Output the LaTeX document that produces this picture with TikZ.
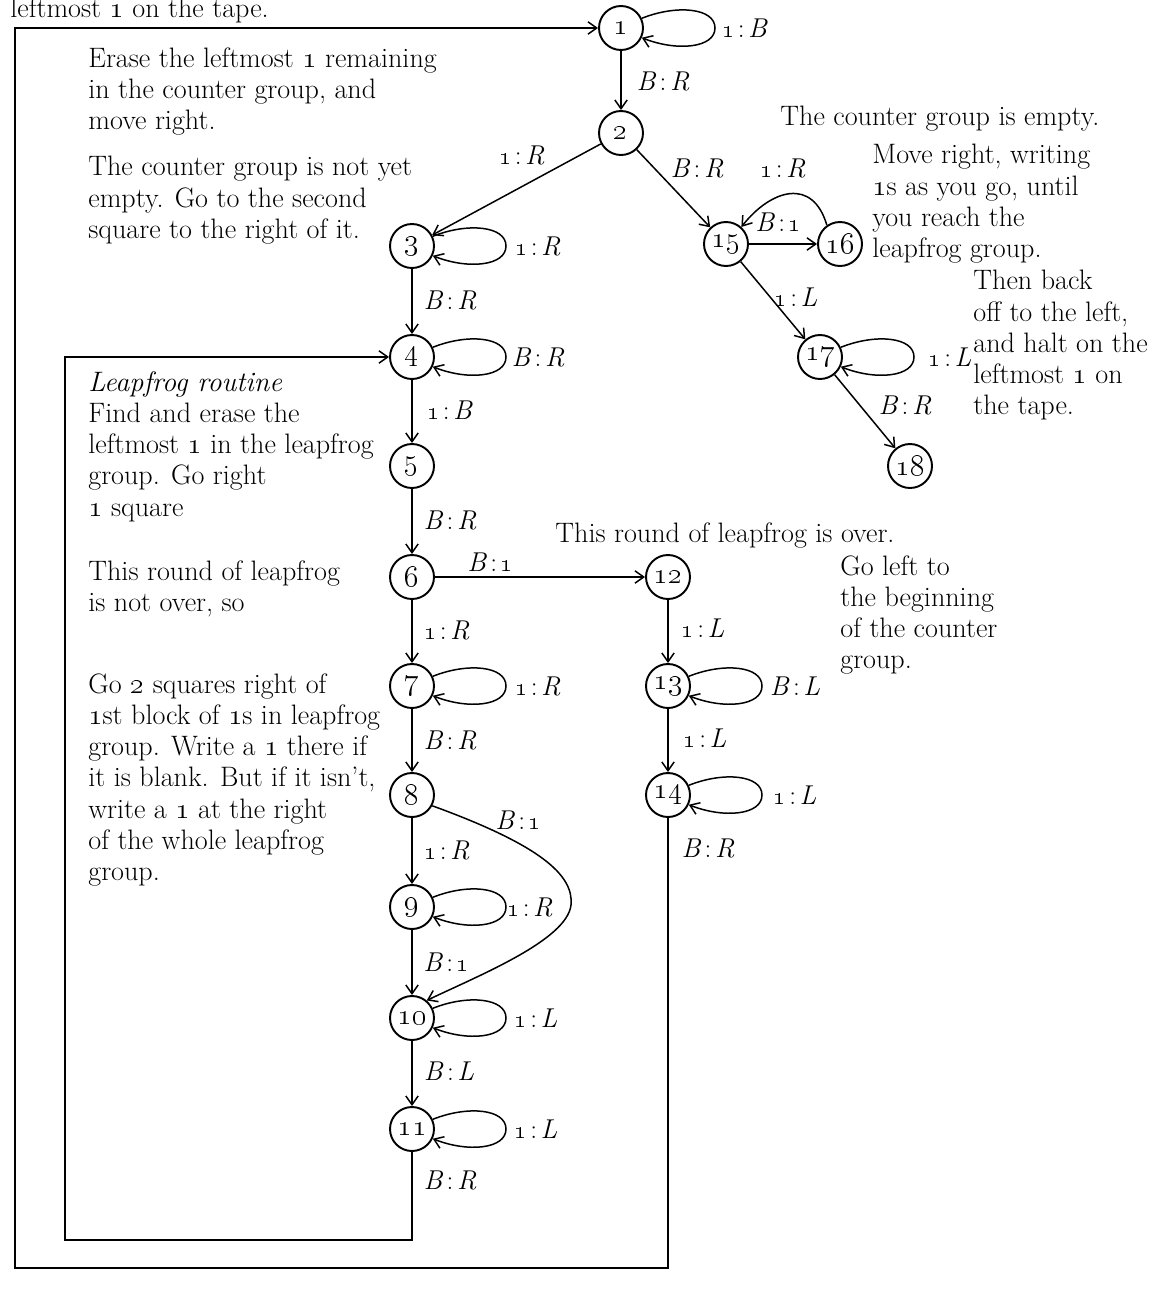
\documentclass[tikz,border=0pt]{standalone}
\usetikzlibrary{arrows.meta,calc}
\newcommand\osn[1]{\oldstylenums{#1}}
\newcommand\tr[2]{#1\kern2pt:\kern2pt\textit{#2}}
\tikzset{
  state/.style={circle,draw,line width=1.1pt,minimum size=0.88cm,inner sep=0pt,
    font=\fontsize{16}{18}\selectfont},
  arr/.style={line width=0.85pt,-{Straight Barb[length=5pt,width=7pt]}},
  lbl/.style={font=\fontsize{15.5}{18}\selectfont,inner sep=0pt},
  para/.style={font=\fontsize{16}{17.8}\selectfont,align=left,anchor=north west,inner sep=0pt},
}
% self loop on the right-hand side of a state
\newcommand\selfloop[1]{%
  \draw[arr] (#1.25) .. controls +(35,-14) and +(0,-20) .. ($(#1)+(94,0)$)
    .. controls +(0,20) and +(35,14) .. (#1.-25);}
\begin{document}
\begin{tikzpicture}[x=0.02cm,y=-0.02cm]
\useasboundingbox (0,0) rectangle (1162,1298);

% states
\node[state] (n1) at (621,28) {\osn{1}};
\node[state] (n2) at (621,133) {\osn{2}};
\node[state] (n3) at (412,246) {\osn{3}};
\node[state] (n4) at (412,357) {\osn{4}};
\node[state] (n5) at (412,466) {\osn{5}};
\node[state] (n6) at (412,577) {\osn{6}};
\node[state] (n7) at (412,686) {\osn{7}};
\node[state] (n8) at (412,795) {\osn{8}};
\node[state] (n9) at (412,907) {\osn{9}};
\node[state] (n10) at (412,1018) {\osn{10}};
\node[state] (n11) at (412,1129) {\osn{11}};
\node[state] (n12) at (668,577) {\osn{12}};
\node[state] (n13) at (668,686) {\osn{13}};
\node[state] (n14) at (668,795) {\osn{14}};
\node[state] (n15) at (726,244) {\osn{15}};
\node[state] (n16) at (840,244) {\osn{16}};
\node[state] (n17) at (820,357) {\osn{17}};
\node[state] (n18) at (910,466) {\osn{18}};

% corner points of the two return lines
\coordinate (c11) at (412,1240);
\coordinate (ret4) at (65,357);
\coordinate (c14) at (668,1268);
\coordinate (ret1) at (15,28);

% transitions
\selfloop{n1}
\draw[arr] (n1) -- (n2);
\draw[arr] (n2) -- (n3);
\draw[arr] (n2) -- (n15);
\draw[arr] (n15) -- (n16);
\draw[arr] (n16.125) .. controls +(-14,-48) and +(30,-38) .. (n15.48);
\draw[arr] (n15) -- (n17);
\selfloop{n17}
\draw[arr] (n17) -- (n18);
\selfloop{n3}
\draw[arr] (n3) -- (n4);
\selfloop{n4}
\draw[arr] (n4) -- (n5);
\draw[arr] (n5) -- (n6);
\draw[arr] (n6) -- (n12);
\draw[arr] (n6) -- (n7);
\selfloop{n7}
\draw[arr] (n7) -- (n8);
\draw[arr] (n8) -- (n9);
\draw[arr] (n8.-28) .. controls (540,845) and (574,875) .. (571,905)
  .. controls (567,940) and (480,975) .. (n10.50);
\selfloop{n9}
\draw[arr] (n9) -- (n10);
\selfloop{n10}
\draw[arr] (n10) -- (n11);
\selfloop{n11}
\draw[arr] (n11) -- (c11) -| (ret4) -- (n4);
\draw[arr] (n12) -- (n13);
\selfloop{n13}
\draw[arr] (n13) -- (n14);
\selfloop{n14}
\draw[arr] (n14) -- (c14) -| (ret1) -- (n1);

% transition labels
\node[lbl] (t1) at (745,28) {\tr{\osn{1}}{B}};
\node[lbl] (t12) at (663,81) {\tr{\textit{B}}{R}};
\node[lbl] (t23) at (522,155) {\tr{\osn{1}}{R}};
\node[lbl] (t215) at (697,168) {\tr{\textit{B}}{R}};
\node[lbl] (t1615) at (783,168) {\tr{\osn{1}}{R}};
\node[lbl] (t1516) at (778,222) {\textit{B}\kern2pt:\kern2pt\osn{1}};
\node[lbl] (t1517) at (796,297) {\tr{\osn{1}}{L}};
\node[lbl] (t17) at (950,357) {\tr{\osn{1}}{L}};
\node[lbl] (t1718) at (905,405) {\tr{\textit{B}}{R}};
\node[lbl] (t3) at (538,246) {\tr{\osn{1}}{R}};
\node[lbl] (t34) at (450,300) {\tr{\textit{B}}{R}};
\node[lbl] (t4) at (538,357) {\tr{\textit{B}}{R}};
\node[lbl] (t45) at (450,410) {\tr{\osn{1}}{B}};
\node[lbl] (t56) at (450,520) {\tr{\textit{B}}{R}};
\node[lbl] (t612) at (490,562) {\textit{B}\kern2pt:\kern2pt\osn{1}};
\node[lbl] (t67) at (447,630) {\tr{\osn{1}}{R}};
\node[lbl] (t7) at (538,686) {\tr{\osn{1}}{R}};
\node[lbl] (t78) at (450,740) {\tr{\textit{B}}{R}};
\node[lbl] (t810) at (518,820) {\textit{B}\kern2pt:\kern2pt\osn{1}};
\node[lbl] (t89) at (447,850) {\tr{\osn{1}}{R}};
\node[lbl] (t9) at (530,907) {\tr{\osn{1}}{R}};
\node[lbl] (t910) at (446,962) {\textit{B}\kern2pt:\kern2pt\osn{1}};
\node[lbl] (t10) at (536,1018) {\tr{\osn{1}}{L}};
\node[lbl] (t1011) at (449,1071) {\tr{\textit{B}}{L}};
\node[lbl] (t11) at (536,1129) {\tr{\osn{1}}{L}};
\node[lbl] (t114) at (450,1180) {\tr{\textit{B}}{R}};
\node[lbl] (t1213) at (703,628) {\tr{\osn{1}}{L}};
\node[lbl] (t13) at (795,686) {\tr{\textit{B}}{L}};
\node[lbl] (t1314) at (705,738) {\tr{\osn{1}}{L}};
\node[lbl] (t14) at (795,795) {\tr{\osn{1}}{L}};
\node[lbl] (t141) at (708,848) {\tr{\textit{B}}{R}};

% comments
\node[para] (topnote) at (10,-3) {leftmost \osn{1} on the tape.};
\node[para] (erase) at (88,47) {Erase the leftmost \osn{1} remaining\\in the counter group, and\\move right.};
\node[para] (notempty) at (88,156) {The counter group is not yet\\empty. Go to the second\\square to the right of it.};
\node[para] (empty) at (780,106) {The counter group is empty.};
\node[para] (moveright) at (872,144) {Move right, writing\\\osn{1}s as you go, until\\you reach the\\leapfrog group.};
\node[para] (backoff) at (973,270) {Then back\\off to the left,\\and halt on the\\leftmost \osn{1} on\\the tape.};
\node[para] (leapfrog) at (88,371) {\textit{Leapfrog routine}\\Find and erase the\\leftmost \osn{1} in the leapfrog\\group. Go right\\\osn{1} square};
\node[para] (notover) at (88,560) {This round of leapfrog\\is not over, so};
\node[para] (gotwo) at (88,673) {Go \osn{2} squares right of\\\osn{1}st block of \osn{1}s in leapfrog\\group. Write a \osn{1} there if\\it is blank. But if it isn't,\\write a \osn{1} at the right\\of the whole leapfrog\\group.};
\node[para] (over) at (555,522) {This round of leapfrog is over.};
\node[para] (goleft) at (840,555) {Go left to\\the beginning\\of the counter\\group.};
\end{tikzpicture}
\end{document}
